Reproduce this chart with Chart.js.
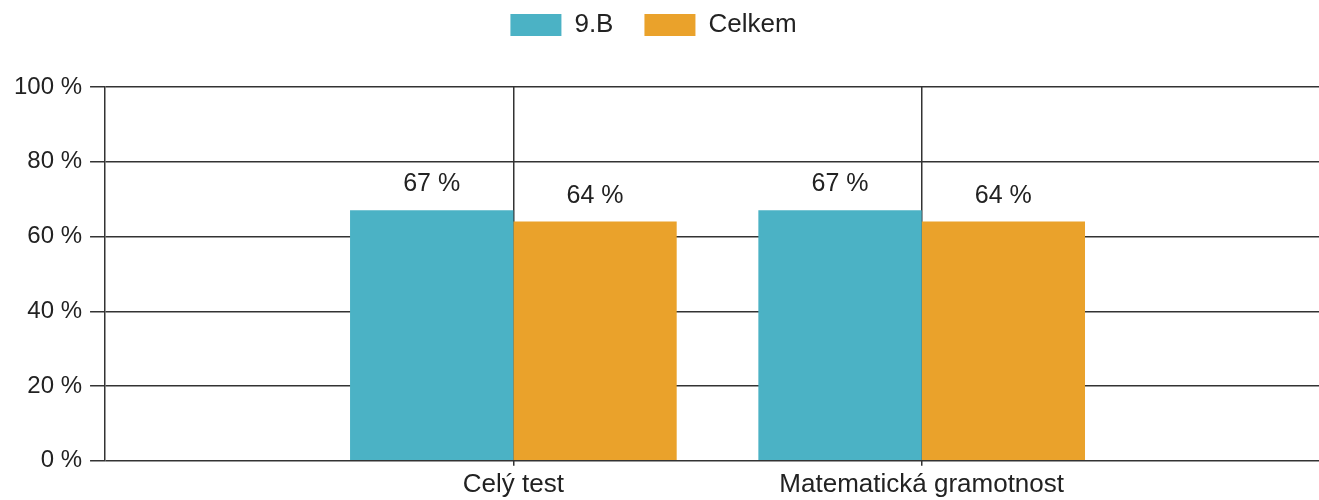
<!DOCTYPE html>
<html>
<head>
<meta charset="utf-8">
<script src="https://cdn.jsdelivr.net/npm/chart.js@4/dist/chart.umd.min.js"></script>
<style>
  html, body { margin: 0; padding: 0; overflow: hidden; background: #fff; }
  #wrap { position: absolute; left: 0; top: -19px; width: 1333px; height: 522px; }
</style>
</head>
<body>
<div id="wrap"><canvas id="ResultChart"></canvas></div>
<script>
// categories (blank ones keep the two real groups away from the edges)
const categories = ['', 'Celý test', 'Matematická gramotnost', ''];
const classValues = [null, 67, 67, null];   // 9.B
const totalValues = [null, 64, 64, null];   // Celkem
const yTicks = [0, 20, 40, 60, 80, 100];

const lineColor = '#333';
const textColor = '#222';
const fontFamily = '"Liberation Sans", Arial, sans-serif';
Chart.defaults.font.family = fontFamily;
Chart.defaults.font.size = 24;
Chart.defaults.color = textColor;

// more room under the legend, and nudge it a bit to the left
const legendGap = {
  id: 'legendGap',
  beforeInit(chart) {
    const legend = chart.legend;
    const fit = legend.fit;
    legend.fit = function () {
      fit.bind(legend)();
      this.height = 106;
    };
    const draw = legend.draw;
    legend.draw = function () {
      chart.ctx.save();
      chart.ctx.translate(-16, 0);
      draw.bind(legend)();
      chart.ctx.restore();
    };
  }
};

// "67 %" labels above the bars
const valueLabels = {
  id: 'valueLabels',
  afterDatasetsDraw(chart) {
    const ctx = chart.ctx;
    ctx.save();
    ctx.font = '25px ' + fontFamily;
    ctx.fillStyle = textColor;
    ctx.textAlign = 'center';
    ctx.textBaseline = 'alphabetic';
    chart.data.datasets.forEach((ds, i) => {
      chart.getDatasetMeta(i).data.forEach((bar, j) => {
        if (ds.data[j] == null) return;
        ctx.fillText(ds.data[j] + ' %', bar.x, bar.y - 19);
      });
    });
    ctx.restore();
  }
};

new Chart(document.getElementById('ResultChart'), {
  type: 'bar',
  data: {
    labels: categories,
    datasets: [{
      label: '9.B',
      data: classValues,
      backgroundColor: '#4BB2C5',
      categoryPercentage: 0.8,
      barPercentage: 1.0
    }, {
      label: 'Celkem',
      data: totalValues,
      backgroundColor: '#EAA22B',
      categoryPercentage: 0.8,
      barPercentage: 1.0
    }]
  },
  options: {
    responsive: true,
    maintainAspectRatio: false,
    animation: false,
    layout: { padding: { left: 6, right: 0, top: 0, bottom: 0 } },
    plugins: {
      legend: {
        position: 'top',
        labels: {
          boxWidth: 51,
          boxHeight: 22,
          padding: 31,
          color: textColor,
          font: { size: 26 }
        }
      },
      tooltip: { enabled: false }
    },
    scales: {
      x: {
        offset: false,
        grid: {
          offset: false,
          color: ctx => (ctx.index === 1 || ctx.index === 2) ? lineColor : 'transparent',
          lineWidth: 1.5,
          tickLength: 5
        },
        border: { display: false },
        ticks: { padding: 3, color: textColor, maxRotation: 0, autoSkip: false, font: { size: 26 } }
      },
      y: {
        min: 0,
        max: 100,
        afterBuildTicks: axis => { axis.ticks = yTicks.map(v => ({ value: v })); },
        grid: {
          color: lineColor,
          lineWidth: 1.5,
          tickLength: 15
        },
        border: { color: lineColor, width: 1.5 },
        ticks: {
          padding: 8,
          color: textColor,
          callback: v => v + ' %'
        }
      }
    }
  },
  plugins: [legendGap, valueLabels]
});
</script>
</body>
</html>
